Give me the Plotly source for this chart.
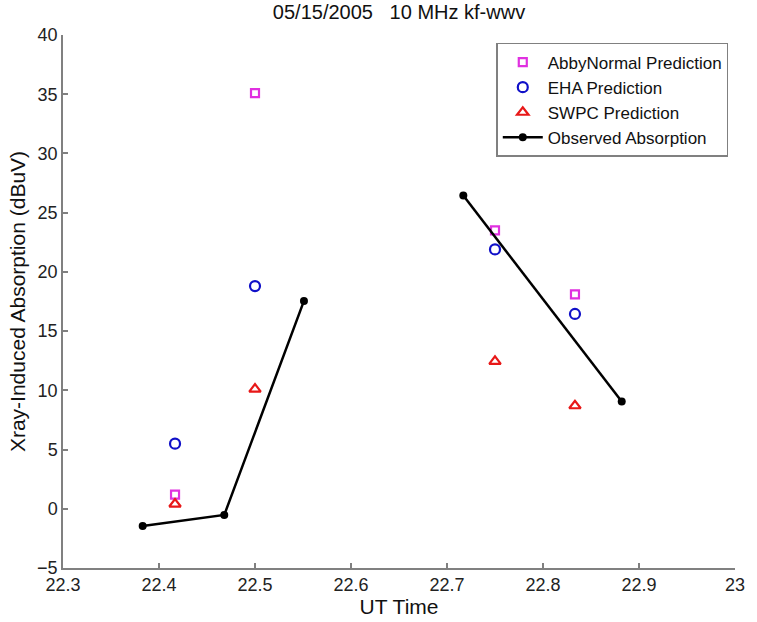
import plotly.graph_objects as go

pred_t = [22.4167, 22.5, 22.75, 22.8333]
abby = [1.2, 35.1, 23.5, 18.1]
eha = [5.5, 18.8, 21.9, 16.45]
swpc = [0.4, 10.1, 12.45, 8.7]
# None marks the gap in the observed record between 22.55 and 22.72
obs_t = [22.383, 22.468, 22.551, None, 22.717, 22.882]
obs = [-1.45, -0.52, 17.55, None, 26.44, 9.05]

FONT = "Liberation Sans, Arial"

fig = go.Figure()
fig.add_trace(go.Scatter(x=pred_t, y=abby, mode="markers", name="AbbyNormal Prediction",
                         marker=dict(symbol="square-open", size=8, color="#e030e0", line=dict(width=2.2))))
fig.add_trace(go.Scatter(x=pred_t, y=eha, mode="markers", name="EHA Prediction",
                         marker=dict(symbol="circle-open", size=10, color="#1010c8", line=dict(width=2.2))))
fig.add_trace(go.Scatter(x=pred_t, y=swpc, mode="markers", name="SWPC Prediction",
                         marker=dict(symbol="triangle-up-open", size=10, color="#e81818", line=dict(width=2.2))))
fig.add_trace(go.Scatter(x=obs_t, y=obs, mode="lines+markers", name="Observed Absorption",
                         connectgaps=False,
                         line=dict(color="black", width=2.5),
                         marker=dict(symbol="circle", size=8, color="black")))

axis_common = dict(showgrid=False, zeroline=False, showline=True, linecolor="#808080", linewidth=1.5,
                   ticks="inside", ticklen=5, tickcolor="#808080", tickwidth=1.5,
                   tickfont=dict(family=FONT, size=18, color="#222"))
fig.update_xaxes(range=[22.3, 23], dtick=0.1, tick0=22.3, tickformat="~g",
                 title=dict(text="UT Time", font=dict(family=FONT, size=21, color="#111"), standoff=0),
                 **axis_common)
fig.update_yaxes(range=[-5, 40], dtick=5,
                 title=dict(text="Xray-Induced Absorption (dBuV)", font=dict(family=FONT, size=21, color="#111"), standoff=6),
                 **axis_common)

fig.update_layout(
    width=757, height=622,
    margin=dict(l=63, r=12, t=35, b=53),
    paper_bgcolor="white", plot_bgcolor="white",
    title=dict(text="05/15/2005\u00a0\u00a0\u00a010 MHz kf-wwv", x=0.5, xref="paper", y=0.981, yref="container",
               xanchor="center", yanchor="middle",
               font=dict(family=FONT, size=20, color="#111")),
    legend=dict(x=0.99, y=0.985, xanchor="right", yanchor="top", bordercolor="#808080", borderwidth=1.5,
                bgcolor="white", font=dict(family=FONT, size=17, color="#111"),
                tracegroupgap=0, itemwidth=40),
    showlegend=True,
)

fig.write_html("out.html", config={"displayModeBar": False},
               post_script="document.body.style.margin='0';")
